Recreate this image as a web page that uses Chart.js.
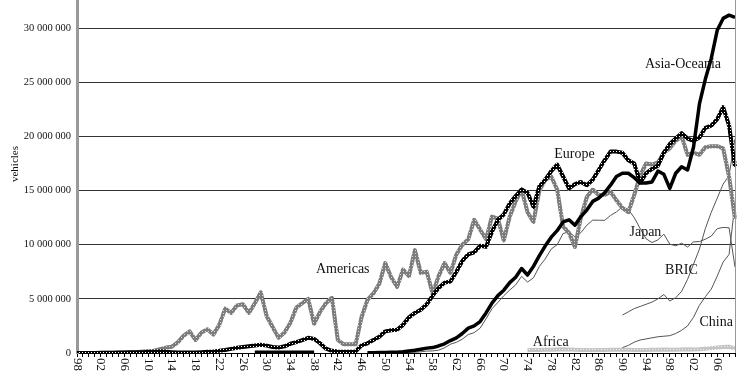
<!DOCTYPE html>
<html>
<head>
<meta charset="utf-8">
<script src="https://cdn.jsdelivr.net/npm/chart.js@4.4.1/dist/chart.umd.min.js"></script>
<style>
  html, body { margin: 0; padding: 0; background: #fff; overflow: hidden; }
  #chart { display: block; }
</style>
</head>
<body>
<canvas id="chart" width="750" height="375"></canvas>
<script>
// x categories: one per year, 1898 .. 2009
const years = [];
for (let yr = 1898; yr <= 2009; yr++) years.push(yr);

// production, millions of vehicles
const americas = [
  0.00, 0.00, 0.01, 0.01, 0.01, 0.02, 0.02, 0.03, 0.04, 0.05, 0.07, 0.13,   // 1898-1909
  0.19, 0.21, 0.36, 0.50, 0.58, 0.98, 1.60, 2.00, 1.20, 1.90,               // 1910-1919
  2.20, 1.70, 2.60, 4.10, 3.70, 4.40, 4.50, 3.70, 4.60, 5.60,               // 1920s
  3.40, 2.40, 1.40, 1.90, 2.80, 4.20, 4.60, 5.00, 2.70, 3.80,               // 1930s
  4.60, 5.10, 1.20, 0.80, 0.80, 0.80, 3.30, 4.90, 5.50, 6.40,               // 1940s
  8.30, 7.00, 6.10, 7.70, 7.10, 9.50, 7.40, 7.50, 5.50, 7.10,               // 1950s
  8.30, 7.40, 9.10, 10.0, 10.5, 12.3, 11.4, 10.5, 12.6, 12.4,               // 1960s
  10.4, 12.6, 14.0, 15.1, 13.0, 12.1, 15.0, 16.0, 16.3, 15.1,               // 1970s
  11.7, 11.1, 9.8, 12.5, 14.4, 15.1, 14.6, 14.6, 14.9, 14.1,                // 1980s
  13.4, 13.0, 14.6, 16.4, 17.5, 17.4, 17.6, 18.5, 18.9, 19.6,               // 1990s
  20.0, 18.3, 18.5, 18.3, 19.0, 19.1, 19.1, 18.9, 16.3, 12.4                // 2000-2009
];

const europe = [
  0.00, 0.00, 0.01, 0.01, 0.02, 0.02, 0.03, 0.04, 0.05, 0.06, 0.07, 0.08,   // 1898-1909
  0.10, 0.12, 0.13, 0.12, 0.08, 0.05, 0.05, 0.04, 0.05, 0.08,               // 1910-1919
  0.12, 0.15, 0.20, 0.28, 0.38, 0.48, 0.55, 0.62, 0.70, 0.77,               // 1920s
  0.68, 0.55, 0.50, 0.62, 0.85, 1.00, 1.20, 1.40, 1.30, 0.90,               // 1930s
  0.40, 0.20, 0.15, 0.12, 0.12, 0.15, 0.70, 0.90, 1.20, 1.50,               // 1940s
  2.00, 2.10, 2.15, 2.60, 3.30, 3.70, 4.00, 4.50, 5.30, 6.00,               // 1950s
  6.50, 6.60, 7.50, 8.50, 9.10, 9.30, 9.90, 9.80, 11.2, 12.3,               // 1960s
  12.8, 13.8, 14.5, 15.1, 14.8, 13.5, 15.4, 16.0, 16.8, 17.4,               // 1970s
  16.3, 15.2, 15.6, 15.8, 15.5, 16.0, 16.9, 17.8, 18.6, 18.6,               // 1980s
  18.5, 17.8, 17.5, 15.7, 16.6, 17.0, 17.3, 18.5, 19.3, 19.8,               // 1990s
  20.3, 19.8, 19.6, 19.9, 20.8, 21.0, 21.6, 22.7, 21.0, 17.2                // 2000-2009
];

const asiaOceaniaStart = 1928;
const asiaOceania = [
  0.06, 0.06, 0.06, 0.06, 0.06, 0.06, 0.06, 0.06, 0.06, 0.06, 0.06,         // 1928-1938
  null, null, null, null, null, null, null, null,                           // 1939-1946
  0.02, 0.03, 0.04,                                                         // 1947-1949
  0.05, 0.06, 0.08, 0.12, 0.18, 0.25, 0.35, 0.45, 0.50, 0.65,               // 1950s
  0.85, 1.15, 1.40, 1.80, 2.30, 2.50, 2.90, 3.70, 4.60, 5.30,               // 1960s
  5.80, 6.50, 7.00, 7.80, 7.20, 8.00, 9.00, 9.90, 10.7, 11.3,               // 1970s
  12.1, 12.3, 11.8, 12.6, 13.2, 14.0, 14.3, 14.8, 15.5, 16.3,               // 1980s
  16.6, 16.6, 16.2, 15.7, 15.7, 15.8, 16.8, 16.5, 15.2, 16.6,               // 1990s
  17.2, 16.9, 19.0, 23.0, 25.3, 27.2, 29.8, 30.9, 31.2, 31.0                // 2000-2009
];

const japanStart = 1950;
const japan = [
  0.03, 0.04, 0.04, 0.05, 0.07, 0.07, 0.11, 0.18, 0.19, 0.26,               // 1950s
  0.48, 0.81, 0.99, 1.28, 1.70, 1.88, 2.29, 3.15, 4.09, 4.67,               // 1960s
  5.29, 5.81, 6.29, 7.08, 6.55, 6.94, 8.00, 8.70, 9.60, 10.0,               // 1970s
  11.04, 11.18, 10.73, 11.11, 11.8, 12.27, 12.26, 12.25, 12.70, 13.03,      // 1980s
  13.49, 13.25, 12.50, 11.50, 10.55, 10.20, 10.45, 10.98, 10.05, 9.90,      // 1990s
  10.14, 9.78, 10.26, 10.29, 10.51, 10.80, 11.48, 11.60, 11.56, 7.93       // 2000-2009
];

const bricStart = 1990;
const bric = [
  3.5, 3.8, 4.1, 4.3, 4.5, 4.7, 5.0, 5.4, 4.8, 5.1,
  5.7, 6.8, 8.2, 9.6, 11.5, 13.0, 14.3, 15.6, 16.4, 19.8
];

const chinaStart = 1990;
const china = [
  0.50, 0.70, 1.00, 1.20, 1.30, 1.40, 1.50, 1.55, 1.60, 1.80,
  2.10, 2.50, 3.30, 4.40, 5.20, 5.90, 7.10, 8.40, 9.10, 13.8
];

const africaStart = 1974;
const africa = [
  0.25, 0.27, 0.28, 0.30, 0.30, 0.32, 0.35, 0.33, 0.30, 0.28,
  0.27, 0.26, 0.27, 0.28, 0.30, 0.30, 0.30, 0.29, 0.28, 0.27,
  0.28, 0.30, 0.31, 0.32, 0.30, 0.30, 0.32, 0.34, 0.33, 0.35,
  0.40, 0.45, 0.50, 0.55, 0.58, 0.42
];

// y axis tick values
const yTicks = [0, 5e6, 10e6, 15e6, 20e6, 25e6, 30e6];

const M = 1e6;
function onYears(start, arr) {
  return years.map(yr => {
    const v = arr[yr - start];
    return v === undefined || v === null ? null : v * M;
  });
}

const canvas = document.getElementById('chart');
const ctx = canvas.getContext('2d');

// small textured strokes like the printed original
function texture(base, dot) {
  const c = document.createElement('canvas');
  c.width = 3; c.height = 3;
  const g = c.getContext('2d');
  g.fillStyle = base; g.fillRect(0, 0, 3, 3);
  g.fillStyle = dot; g.fillRect(1, 1, 1, 1);
  return ctx.createPattern(c, 'repeat');
}

const serif = '"Liberation Serif", "Times New Roman", serif';

// names written next to the lines (year, millions)
const names = [
  { text: 'Americas', year: 1938.3, value: 7.37 },
  { text: 'Europe', year: 1978.5, value: 18.0 },
  { text: 'Asia-Oceania', year: 1993.8, value: 26.3 },
  { text: 'Japan', year: 1991.2, value: 10.76 },
  { text: 'BRIC', year: 1997.2, value: 7.3 },
  { text: 'China', year: 2003.0, value: 2.45 },
  { text: 'Africa', year: 1974.9, value: 0.67 }
];

const decor = {
  id: 'decor',
  afterDraw(chart) {
    const { ctx, chartArea: a, scales: { x, y } } = chart;
    ctx.save();
    // thin right frame
    ctx.strokeStyle = '#999';
    ctx.lineWidth = 1;
    ctx.beginPath();
    ctx.moveTo(a.right + 0.5, a.top);
    ctx.lineTo(a.right + 0.5, a.bottom);
    ctx.stroke();

    // year labels, turned clockwise
    ctx.fillStyle = '#111';
    ctx.font = '13px ' + serif;
    ctx.textAlign = 'left';
    ctx.textBaseline = 'middle';
    years.forEach((yr, i) => {
      if ((yr - 1898) % 4 !== 0) return;
      ctx.save();
      ctx.translate(x.getPixelForValue(i), a.bottom + 5);
      ctx.rotate(Math.PI / 2);
      ctx.fillText(String(yr % 100).padStart(2, '0'), 0, 0);
      ctx.restore();
    });

    // axis title
    ctx.save();
    ctx.font = '11px ' + serif;
    ctx.textAlign = 'center';
    ctx.translate(15.5, 164);
    ctx.rotate(-Math.PI / 2);
    ctx.fillText('vehicles', 0, 0);
    ctx.restore();

    // series names
    ctx.font = '14px ' + serif;
    ctx.textBaseline = 'alphabetic';
    names.forEach(n => {
      ctx.fillText(n.text, x.getPixelForValue(n.year - 1898), y.getPixelForValue(n.value * M));
    });
    ctx.restore();
  }
};

const thin = { borderColor: '#555', borderWidth: 1 };

new Chart(ctx, {
  type: 'line',
  data: {
    labels: years,
    datasets: [
      { label: 'Asia-Oceania', data: onYears(asiaOceaniaStart, asiaOceania), borderColor: '#000', borderWidth: 3.5 },
      { label: 'Europe', data: onYears(1898, europe), borderColor: texture('#000', '#fff'), borderWidth: 4 },
      { label: 'Americas', data: onYears(1898, americas), borderColor: texture('#7c7c7c', '#d4d4d4'), borderWidth: 4 },
      { label: 'Japan', data: onYears(japanStart, japan), ...thin },
      { label: 'BRIC', data: onYears(bricStart, bric), ...thin },
      { label: 'China', data: onYears(chinaStart, china), ...thin },
      { label: 'Africa', data: onYears(africaStart, africa), borderColor: texture('#c4c4c4', '#f2f2f2'), borderWidth: 4 }
    ]
  },
  options: {
    responsive: false,
    animation: false,
    layout: { padding: { top: 0, right: 15, bottom: 0, left: 0 } },
    elements: {
      point: { radius: 0 },
      line: { tension: 0, borderJoinStyle: 'round', fill: false }
    },
    plugins: { legend: { display: false }, tooltip: { enabled: false } },
    scales: {
      x: {
        type: 'category',
        offset: false,
        grid: { drawOnChartArea: false, drawTicks: true, tickLength: 4, color: '#000', lineWidth: 1 },
        border: { color: '#000', width: 1 },
        ticks: { display: false, autoSkip: false },
        afterFit: s => { s.height = 22; s.paddingLeft = 0; s.paddingRight = 0; }
      },
      y: {
        min: 0,
        max: 32.6e6,
        afterBuildTicks: s => { s.ticks = yTicks.map(v => ({ value: v })); },
        ticks: {
          padding: 6,
          color: '#111',
          font: { family: serif, size: 10.5 },
          callback: v => v === 0 ? '0' : String(v).replace(/\B(?=(\d{3})+(?!\d))/g, ' ')
        },
        grid: { color: '#333', lineWidth: 1, drawTicks: false },
        border: { color: '#999', width: 3 },
        afterFit: s => { s.width = 77; s.paddingTop = 0; s.paddingBottom = 0; }
      }
    }
  },
  plugins: [decor]
});
</script>
</body>
</html>
